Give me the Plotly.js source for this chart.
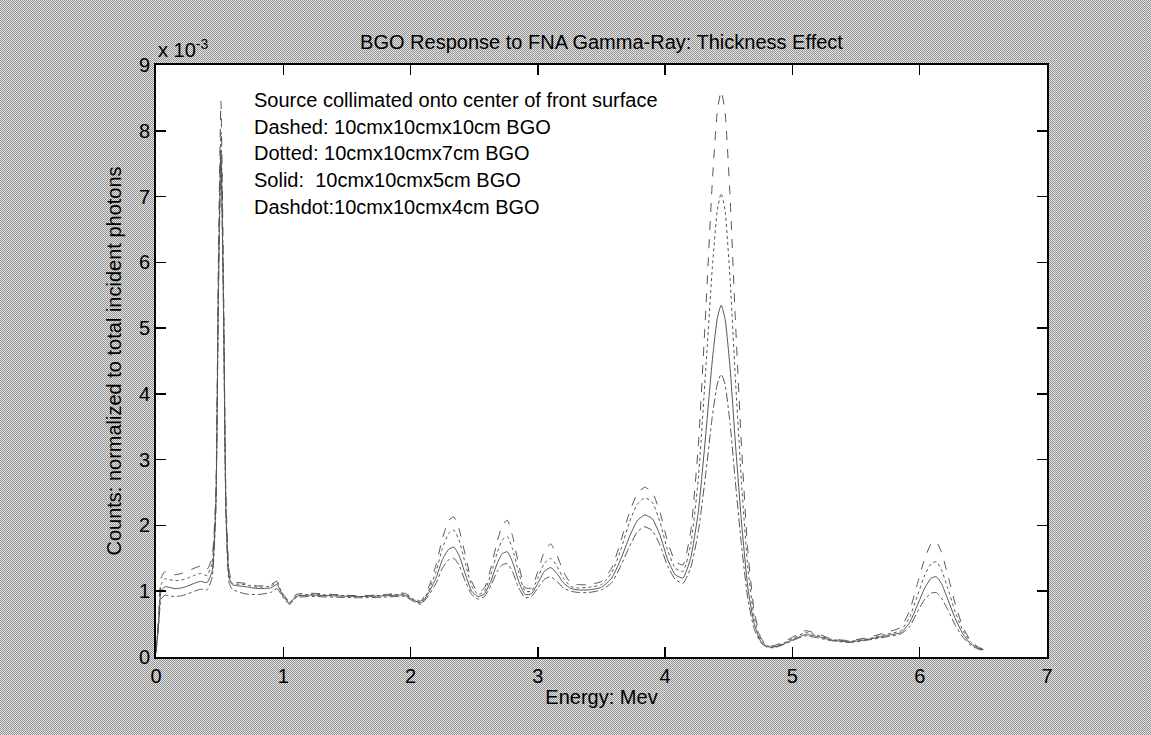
<!DOCTYPE html>
<html>
<head>
<meta charset="utf-8">
<script src="https://cdn.plot.ly/plotly-3.0.1.min.js"></script>
<style>
  html, body { margin: 0; padding: 0; }
  body {
    width: 1151px; height: 735px; overflow: hidden;
    /* pixel checkerboard giving a halftone grey backdrop */
    background-color: #bdbdbd;
    background-image: url("data:image/svg+xml;utf8,<svg xmlns='http://www.w3.org/2000/svg' width='2' height='2' shape-rendering='crispEdges'><rect width='2' height='2' fill='%23e4e4e4'/><rect width='1' height='1' fill='%23939393'/><rect x='1' y='1' width='1' height='1' fill='%23939393'/></svg>");
    background-size: 2px 2px;
    image-rendering: pixelated;
  }
  #chart { width: 1151px; height: 735px; }
</style>
</head>
<body>
<div id="chart"></div>
<script>
// Energy grid (MeV)
const energy = [0, 0.02, 0.04, 0.07, 0.1, 0.15, 0.2, 0.25, 0.3, 0.35, 0.4, 0.44, 0.47, 0.49, 0.51, 0.53, 0.55, 0.575, 0.6, 0.7,
  0.8, 0.9, 0.95, 1.0, 1.05, 1.1, 1.2, 1.4, 1.6, 1.8, 1.95, 2.02, 2.08, 2.14, 2.2, 2.25, 2.3, 2.34, 2.38, 2.43,
  2.48, 2.53, 2.58, 2.63, 2.68, 2.72, 2.76, 2.8, 2.85, 2.9, 2.95, 3.0, 3.05, 3.1, 3.15, 3.2, 3.26, 3.32, 3.4, 3.5,
  3.58, 3.65, 3.72, 3.78, 3.84, 3.9, 3.96, 4.02, 4.08, 4.14, 4.2, 4.26, 4.32, 4.37, 4.41, 4.44, 4.47, 4.51, 4.55, 4.6,
  4.65, 4.7, 4.75, 4.8, 4.85, 4.92, 5.0, 5.1, 5.2, 5.3, 5.45, 5.6, 5.75, 5.85, 5.92, 5.98, 6.04, 6.09, 6.13, 6.17,
  6.22, 6.28, 6.34, 6.4, 6.46, 6.5];

// Normalized counts, in units of 1e-3
const bgo10cm = [0.1, 0.6, 1.2, 1.3, 1.28, 1.25, 1.27, 1.3, 1.35, 1.38, 1.33, 1.5, 2.5, 6.0, 8.45, 5.8, 2.4, 1.3, 1.15, 1.12,
  1.08, 1.1, 1.15, 0.95, 0.85, 0.95, 0.97, 0.95, 0.93, 0.95, 0.97, 0.9, 0.85, 1.05, 1.4, 1.8, 2.08, 2.13, 1.95, 1.55,
  1.15, 0.98, 1.05, 1.35, 1.75, 2.0, 2.08, 1.85, 1.4, 1.05, 1.05, 1.3, 1.6, 1.72, 1.55, 1.3, 1.12, 1.1, 1.1, 1.15,
  1.35, 1.75, 2.2, 2.48, 2.58, 2.5, 2.2, 1.75, 1.45, 1.4, 1.9, 3.2, 5.3, 7.2, 8.3, 8.6, 8.3, 7.0, 5.2, 3.2,
  1.6, 0.7, 0.3, 0.18, 0.17, 0.22, 0.3, 0.4, 0.35, 0.28, 0.25, 0.3, 0.38, 0.45, 0.7, 1.1, 1.5, 1.72, 1.75, 1.6,
  1.25, 0.8, 0.45, 0.25, 0.15, 0.12];

const bgo7cm = [0.1, 0.55, 1.1, 1.19, 1.18, 1.16, 1.17, 1.2, 1.24, 1.27, 1.24, 1.42, 2.4, 5.8, 8.0, 5.6, 2.3, 1.25, 1.12, 1.1,
  1.06, 1.08, 1.13, 0.93, 0.83, 0.93, 0.95, 0.94, 0.92, 0.94, 0.95, 0.88, 0.83, 1.0, 1.3, 1.65, 1.88, 1.93, 1.78, 1.42,
  1.08, 0.95, 1.0, 1.25, 1.58, 1.78, 1.83, 1.65, 1.28, 1.0, 1.0, 1.2, 1.42, 1.5, 1.38, 1.2, 1.07, 1.05, 1.06, 1.1,
  1.28, 1.62, 2.05, 2.32, 2.42, 2.35, 2.05, 1.62, 1.35, 1.3, 1.7, 2.7, 4.4, 5.9, 6.8, 7.05, 6.8, 5.75, 4.3, 2.65,
  1.35, 0.6, 0.27, 0.17, 0.16, 0.2, 0.28, 0.37, 0.33, 0.27, 0.24, 0.28, 0.35, 0.4, 0.6, 0.92, 1.25, 1.42, 1.45, 1.33,
  1.05, 0.68, 0.4, 0.23, 0.14, 0.12];

const bgo5cm = [0.08, 0.5, 1.0, 1.07, 1.06, 1.04, 1.05, 1.08, 1.12, 1.15, 1.13, 1.3, 2.3, 5.6, 7.7, 5.4, 2.2, 1.2, 1.1, 1.07,
  1.04, 1.05, 1.1, 0.92, 0.82, 0.92, 0.94, 0.93, 0.92, 0.93, 0.94, 0.87, 0.82, 0.97, 1.2, 1.48, 1.64, 1.67, 1.55, 1.26,
  1.0, 0.92, 0.96, 1.15, 1.42, 1.57, 1.6, 1.45, 1.15, 0.95, 0.96, 1.12, 1.3, 1.36, 1.27, 1.13, 1.04, 1.02, 1.02, 1.06,
  1.2, 1.48, 1.83, 2.07, 2.16, 2.1, 1.85, 1.48, 1.25, 1.2, 1.5, 2.2, 3.4, 4.5, 5.15, 5.35, 5.15, 4.4, 3.3, 2.05,
  1.05, 0.5, 0.24, 0.16, 0.15, 0.19, 0.26, 0.34, 0.31, 0.26, 0.23, 0.27, 0.33, 0.37, 0.52, 0.78, 1.05, 1.2, 1.22, 1.12,
  0.88, 0.58, 0.35, 0.2, 0.13, 0.11];

const bgo4cm = [0.06, 0.45, 0.88, 0.94, 0.93, 0.92, 0.93, 0.96, 1.0, 1.03, 1.02, 1.2, 2.2, 5.4, 7.55, 5.3, 2.1, 1.12, 1.03, 0.96,
  0.95, 0.98, 1.04, 0.9, 0.8, 0.9, 0.92, 0.91, 0.9, 0.91, 0.92, 0.85, 0.8, 0.93, 1.12, 1.35, 1.48, 1.5, 1.4, 1.15,
  0.95, 0.88, 0.92, 1.08, 1.3, 1.4, 1.42, 1.3, 1.05, 0.9, 0.92, 1.05, 1.18, 1.22, 1.15, 1.05, 1.0, 0.98, 0.98, 1.02,
  1.13, 1.38, 1.68, 1.9, 1.98, 1.92, 1.7, 1.38, 1.18, 1.12, 1.35, 1.9, 2.8, 3.65, 4.15, 4.3, 4.15, 3.55, 2.7, 1.7,
  0.88, 0.42, 0.22, 0.15, 0.14, 0.18, 0.25, 0.32, 0.29, 0.25, 0.22, 0.26, 0.31, 0.35, 0.46, 0.68, 0.88, 0.97, 0.98, 0.9,
  0.72, 0.48, 0.3, 0.18, 0.12, 0.1];

const xTicks = [0, 1, 2, 3, 4, 5, 6, 7];
const yTicks = [0, 1, 2, 3, 4, 5, 6, 7, 8, 9];

const noteLines = [
  'Source collimated onto center of front surface',
  'Dashed: 10cmx10cmx10cm BGO',
  'Dotted: 10cmx10cmx7cm BGO',
  'Solid:  10cmx10cmx5cm BGO',
  'Dashdot:10cmx10cmx4cm BGO'
];

const seriesList = [
  { y: bgo10cm, dash: 'dash',    name: '10 cm' },
  { y: bgo7cm,  dash: 'dot',     name: '7 cm' },
  { y: bgo5cm,  dash: 'solid',   name: '5 cm' },
  { y: bgo4cm,  dash: 'dashdot', name: '4 cm' }
];

const traces = seriesList.map(s => ({
  x: energy, y: s.y, name: s.name, type: 'scatter', mode: 'lines',
  line: { color: '#555555', width: 1, dash: s.dash, shape: 'spline', smoothing: 0.5 },
  hoverinfo: 'x+y'
}));

const FONT = 'Arial, "Liberation Sans", sans-serif';
const plotTop = 65, plotBottom = 657, plotH = plotBottom - plotTop;

const annotations = [
  {
    text: 'x 10<sup>-3</sup>', xref: 'paper', yref: 'paper', x: 0, y: 1,
    xanchor: 'left', yanchor: 'bottom', yshift: 2, showarrow: false,
    font: { family: FONT, size: 20, color: '#000' }
  }
];
noteLines.forEach((t, i) => {
  const yc = 100 + i * 26.7;
  annotations.push({
    text: t, xref: 'paper', yref: 'paper',
    x: (252 - 156) / 891, y: (plotBottom - yc) / plotH,
    xanchor: 'left', yanchor: 'middle', showarrow: false,
    font: { family: FONT, size: 20, color: '#000' }
  });
});

const axisBase = {
  showline: true, linecolor: '#000', linewidth: 2, mirror: 'ticks',
  ticks: 'inside', ticklen: 10, tickwidth: 1.5, tickcolor: '#000',
  showgrid: false, zeroline: false,
  tickfont: { family: FONT, size: 20, color: '#000' }
};

const layout = {
  width: 1151, height: 735,
  margin: { l: 156, r: 104, t: plotTop, b: 735 - plotBottom, pad: 0 },
  paper_bgcolor: 'rgba(0,0,0,0)', plot_bgcolor: '#ffffff',
  showlegend: false,
  title: {
    text: 'BGO Response to FNA Gamma-Ray: Thickness Effect',
    x: 0.5, xref: 'paper', y: 1 - 42 / 735, yanchor: 'middle',
    font: { family: FONT, size: 20, color: '#000' }
  },
  xaxis: Object.assign({}, axisBase, {
    range: [0, 7], tickvals: xTicks, ticktext: xTicks.map(String),
    title: { text: 'Energy: Mev', standoff: 4, font: { family: FONT, size: 20, color: '#000' } }
  }),
  yaxis: Object.assign({}, axisBase, {
    range: [0, 9], tickvals: yTicks, ticktext: yTicks.map(String),
    title: { text: 'Counts: normalized to total incident photons', standoff: 12, font: { family: FONT, size: 20, color: '#000' } }
  }),
  annotations: annotations
};

Plotly.newPlot('chart', traces, layout, { displayModeBar: false, staticPlot: true });
</script>
</body>
</html>
